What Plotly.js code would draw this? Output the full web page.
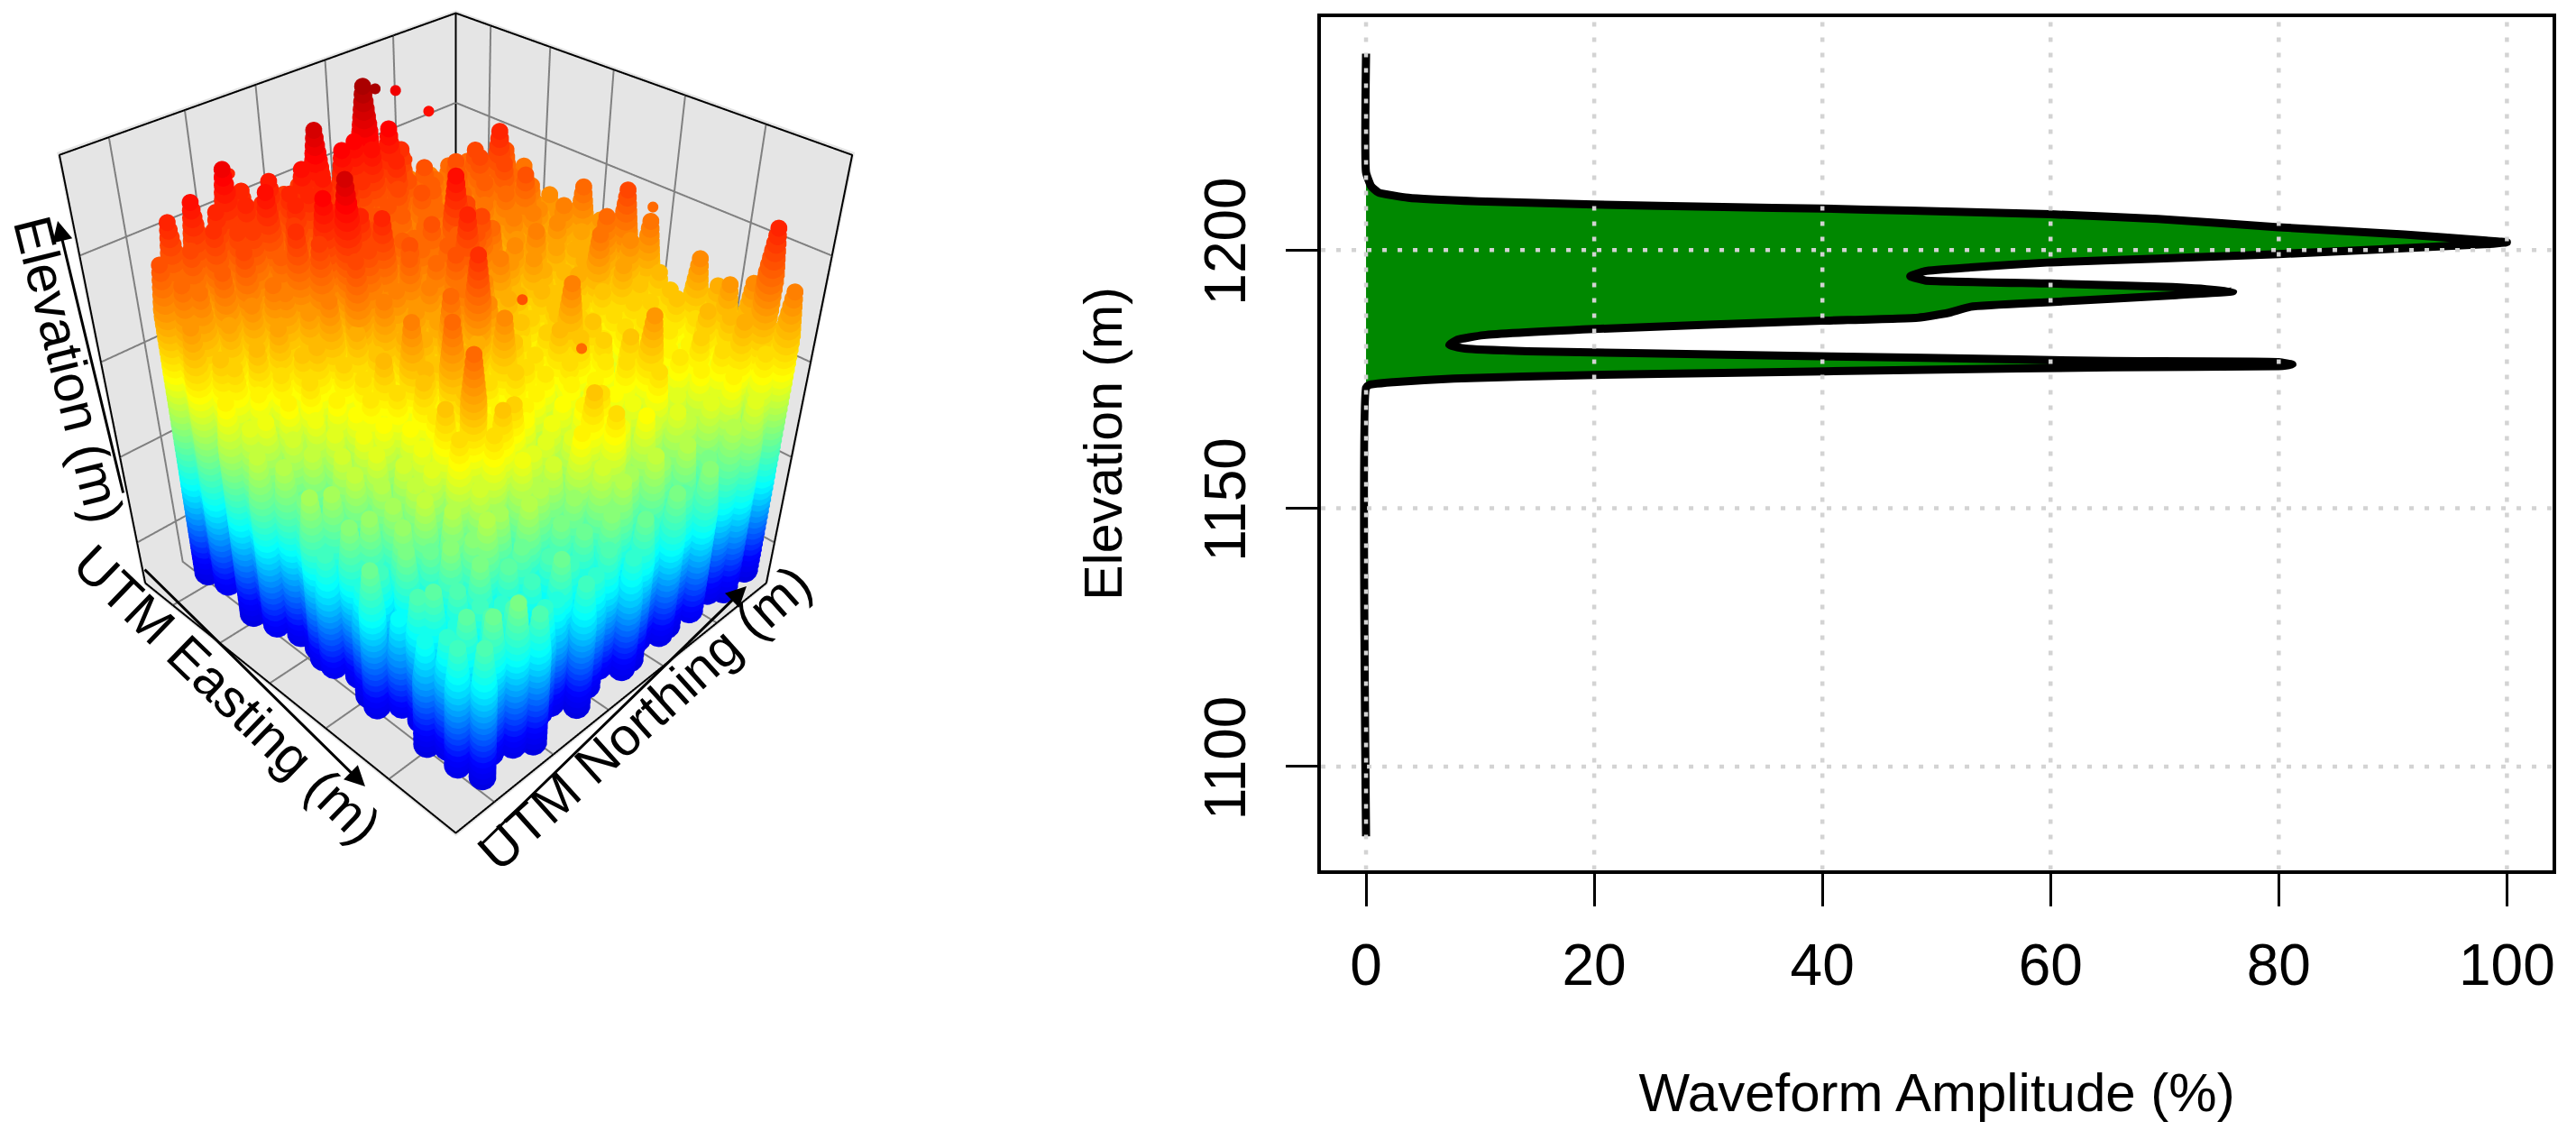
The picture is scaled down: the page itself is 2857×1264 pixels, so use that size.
<!DOCTYPE html>
<html>
<head>
<meta charset="utf-8">
<script src="https://cdn.plot.ly/plotly-3.0.1.min.js"></script>
<style>html,body{margin:0;padding:0;background:#fff}#chart{width:2857px;height:1264px}</style>
</head>
<body>
<div id="chart"></div>
<script>
// =========================
// POINT CLOUD DATA
// =========================
const eastingM = [2.5,7.5,12.5,17.5,22.5,27.5,32.5,37.5,42.5,47.5,52.5,57.5,62.5,67.5,72.5,77.5,82.5,87.5,92.5,97.5];
const northingM = [2.5,7.5,12.5,17.5,22.5,27.5,32.5,37.5,42.5,47.5,52.5,57.5,62.5,67.5,72.5,77.5,82.5,87.5,92.5,97.5];
// the stems do not stand on a clean grid
const northingShift = [0,1.5,-1,2,-1.5,0.5,-2,1,2,-0.5,-1.5,1.5,0,-2,1,2,-1,0.5,-1.5,1];
const eastingShift = [1,-1.5,0.5,2,-1,-2,1.5,0,-1,2,0.5,-1.5,1,-0.5,2,-2,0,1.5,-1,0.5];
// ground rise above 1175 m along each direction, from the scalloped lower edge
const groundE = [0,0.5,1.5,0.5,0,1,2,1,0,0.5,1.5,0.5,0,1,1.5,0.5,0,0.5,1,0];
const groundN = [0,1,0.5,0,1.5,0.5,0,1,2,0.5,0,1,0.5,0,1.5,0.5,1,0,0.5,0];
const cloudLevels = [1175,1176,1177,1178,1179,1180,1181,1182,1183,1184,1185,1186,1187,1188,1189,1190,1191,1192,1193,1194,1195,1196,1197,1198,1199,1200,1201,1202,1203,1204,1205,1206,1207,1208,1209,1210,1211,1212,1213,1214,1215,1216,1217,1218,1219,1220,1221,1222,1223,1224,1225,1226,1227,1228,1229,1230,1231,1232,1233,1234,1235,1236];
// canopy top (m), one row per easting, one column per northing
const canopyTop = [
 [1224,1228,1230,1228,1232,1228,1229,1226,1226,1225,1224,1225,1226,1224,1222,1220,1220,1219,1218,1216],
 [1222,1225,1227,1226,1228,1227,1228,1230,1234,1231,1231,1237,1231,1227,1224,1221,1222,1222,1220,1218],
 [1218,1221,1223,1225,1226,1230,1228,1228,1229,1227,1227,1230,1228,1224,1223,1222,1224,1225,1222,1220],
 [1214,1217,1219,1221,1223,1226,1227,1225,1225,1224,1224,1225,1224,1223,1222,1223,1225,1228,1224,1221],
 [1210,1213,1215,1217,1220,1227,1231,1228,1225,1224,1222,1223,1222,1222,1221,1222,1223,1225,1222,1220],
 [1207,1210,1212,1214,1218,1226,1234,1228,1225,1223,1222,1222,1221,1220,1220,1221,1222,1224,1221,1219],
 [1205,1208,1210,1212,1215,1220,1225,1225,1228,1224,1222,1224,1230,1225,1220,1219,1220,1220,1219,1218],
 [1204,1206,1208,1210,1213,1216,1220,1220,1223,1222,1223,1223,1225,1222,1219,1218,1218,1219,1220,1222],
 [1200,1205,1207,1209,1212,1214,1216,1218,1220,1224,1228,1224,1220,1218,1218,1220,1217,1216,1217,1218],
 [1203,1198,1206,1208,1211,1215,1220,1216,1217,1221,1223,1219,1216,1215,1215,1216,1215,1216,1216,1218],
 [1196,1203,1205,1207,1209,1212,1215,1214,1222,1227,1219,1215,1214,1213,1214,1214,1216,1221,1222,1225],
 [1201,1197,1204,1206,1209,1214,1222,1216,1216,1219,1214,1212,1213,1214,1213,1213,1214,1217,1219,1221],
 [1194,1202,1203,1205,1208,1211,1214,1212,1212,1213,1212,1212,1215,1220,1214,1212,1212,1213,1214,1215],
 [1199,1196,1202,1205,1207,1214,1212,1210,1210,1210,1210,1211,1212,1214,1213,1211,1212,1212,1213,1214],
 [1192,1200,1199,1204,1212,1222,1214,1213,1209,1208,1209,1210,1210,1211,1214,1211,1210,1211,1214,1219],
 [1197,1193,1201,1201,1206,1212,1208,1207,1207,1207,1210,1210,1209,1212,1218,1213,1210,1210,1212,1216],
 [1193,1198,1197,1200,1204,1203,1204,1204,1206,1210,1214,1212,1207,1208,1212,1210,1211,1213,1215,1218],
 [1195,1194,1196,1195,1198,1199,1197,1200,1202,1206,1212,1208,1209,1206,1207,1207,1210,1212,1215,1219],
 [1196,1198,1197,1197,1195,1196,1199,1196,1199,1201,1204,1203,1205,1202,1204,1205,1207,1210,1216,1228],
 [1197,1199,1200,1197,1195,1194,1196,1195,1197,1195,1199,1196,1200,1198,1201,1200,1204,1207,1212,1220]
];
// isolated returns above the canopy
const strayE = [9,-3,5,-8,56,6,9,67,84,58];
const strayN = [60,77,80,31,102,39,69,46,45,99];
const strayZ = [1237,1232,1230,1228,1222,1228,1226,1224,1222,1220];

const sceneE = [-9,103];
const sceneN = [-9,103];
const sceneZ = [1172,1238];
// box edges sit just inside the axis range so they do not fight with the walls
const edgeE = [-8.7,102.7];
const edgeN = [-8.7,102.7];
const edgeZ = [1172.3,1237.7];
const gridE = [3,22,41,61,82];
const gridN = [3,22,41,61,82];
const gridZ = [1180,1195,1210,1225];
const jetScale = [[0,'#0000B0'],[0.15,'#0000FF'],[0.33,'#00FFFF'],[0.57,'#FFFF00'],[0.875,'#FF0000'],[1,'#800000']];

// =========================
// WAVEFORM DATA
// =========================
const waveAmp = [0,0,0.46,1.1,3.7,9.8,20,31.3,40,47.7,60,69.4,80,91,98.2,100,98,80,69.4,60,53,49,47.7,49,60,70.7,76,70.7,60,53,51,48.4,40,20,10.3,8,7.3,8.7,14.2,32.6,49,65.4,80,81.2,80,65.4,49,31.3,20,7.7,2.4,0.3,0,0];
const waveElev = [1238,1215,1212.3,1211.1,1210.1,1209.4,1208.8,1208.3,1208,1207.6,1206.9,1206,1204.4,1203,1201.8,1201.5,1201.1,1199.2,1198.3,1197.6,1196.6,1195.9,1194.9,1194.1,1193.5,1192.8,1192,1191.2,1189.9,1189,1187.8,1186.9,1186.3,1184.7,1183.5,1182.6,1181.6,1180.9,1180.4,1179.7,1179.1,1178.5,1178.3,1177.8,1177.5,1177.3,1176.8,1176.2,1175.8,1175.1,1174.4,1173.9,1173.3,1086.5];
const ampTicks = [0,20,40,60,80,100];
const elevTicks = [1100,1150,1200];
const ampRange = [-3.95,104];
const elevRange = [1080,1245];

// =========================
// BUILD THE CLOUD
// =========================
let cloudE = [], cloudN = [], cloudZ = [], cloudSize = [];
canopyTop.forEach((row, i) => {
    row.forEach((top, j) => {
        const ground = 1175 + groundE[i] + groundN[j];
        cloudLevels.filter(z => z < top && z >= ground).concat([top]).forEach(z => {
            cloudE.push(eastingM[i] + eastingShift[j]);
            cloudN.push(northingM[j] + northingShift[i]);
            cloudZ.push(z);
            // crowns narrow toward the tip
            cloudSize.push(Math.min(36, 22 + (top - z) * 2.2));
        });
    });
});

const colorOpts = {cmin: 1168, cmax: 1240, colorscale: jetScale, showscale: false};

function line3d(xs, ys, zs, color, width) {
    return {type: 'scatter3d', mode: 'lines', x: xs, y: ys, z: zs, hoverinfo: 'skip',
        showlegend: false, line: {color: color, width: width}};
}

const [e0, e1] = edgeE, [n0, n1] = edgeN, [z0, z1] = edgeZ;
const traces = [
    {type: 'scatter3d', mode: 'markers', x: cloudE, y: cloudN, z: cloudZ, hoverinfo: 'skip',
        marker: Object.assign({size: cloudSize, color: cloudZ, opacity: 1, line: {width: 0}}, colorOpts)},
    {type: 'scatter3d', mode: 'markers', x: strayE, y: strayN, z: strayZ, hoverinfo: 'skip',
        marker: Object.assign({size: 7, color: strayZ, opacity: 1, line: {width: 0}}, colorOpts)},
    // floor front edges and wall outlines
    line3d([e0, e1, e1], [n0, n0, n1], [z0, z0, z0], '#000', 4),
    line3d([e0, e0, e0, e1, e1], [n0, n0, n1, n1, n1], [z0, z1, z1, z1, z0], '#000', 4),
    line3d([e0, e0], [n1, n1], [z0, z1], '#000', 4)
];

// grey grid on the two back walls and the floor
gridE.forEach(t => {
    traces.push(line3d([t, t, t], [n0, n1, n1], [z0, z0, z1], '#808080', 4));
});
gridN.forEach(t => {
    traces.push(line3d([e1, e0, e0], [t, t, t], [z0, z0, z1], '#808080', 4));
});
gridZ.forEach(t => {
    traces.push(line3d([e0, e0, e1], [n0, n1, n1], [t, t, t], '#808080', 4));
});

// waveform polygon, then its grid on top
traces.push({type: 'scatter', mode: 'lines', x: waveAmp, y: waveElev, fill: 'toself', fillcolor: '#008800',
    line: {color: '#000', width: 9, shape: 'spline', smoothing: 0.4}, hoverinfo: 'skip', showlegend: false});
ampTicks.forEach(t => traces.push({type: 'scatter', mode: 'lines', x: [t, t], y: elevRange, hoverinfo: 'skip',
    showlegend: false, line: {color: '#D3D3D3', width: 4.5, dash: '5px,12px'}}));
elevTicks.forEach(t => traces.push({type: 'scatter', mode: 'lines', x: ampRange, y: [t, t], hoverinfo: 'skip',
    showlegend: false, line: {color: '#D3D3D3', width: 4.5, dash: '5px,12px'}}));

const hidden = {title: {text: ''}, showticklabels: false, ticks: '', zeroline: false, showspikes: false,
    showbackground: true, backgroundcolor: '#E5E5E5', showgrid: false};

function note(text, x, y, angle) {
    return {text: text, xref: 'paper', yref: 'paper', x: x / 2857, y: 1 - y / 1264, showarrow: false,
        xanchor: 'center', yanchor: 'middle', textangle: angle, font: {size: 59, color: '#000'}};
}
function axisArrow(x0, y0, x1, y1) {
    return {text: '', xref: 'paper', yref: 'paper', axref: 'paper', ayref: 'paper',
        x: x1 / 2857, y: 1 - y1 / 1264, ax: x0 / 2857, ay: 1 - y0 / 1264,
        showarrow: true, arrowhead: 2, arrowsize: 1.5, arrowwidth: 3, arrowcolor: '#000'};
}

const layout = {
    width: 2857, height: 1264, paper_bgcolor: '#fff', plot_bgcolor: '#fff', showlegend: false,
    margin: {l: 0, r: 0, t: 0, b: 0},
    font: {family: '"Liberation Sans", Arial, sans-serif', color: '#000'},
    scene: {
        domain: {x: [0, 0.354], y: [0, 1]},
        aspectmode: 'manual', aspectratio: {x: 1, y: 1, z: 1.03},
        camera: {eye: {x: 1.639, y: -1.639, z: 1.572}, center: {x: 0, y: 0, z: -0.471}, up: {x: 0, y: 0, z: 1}},
        xaxis: Object.assign({}, hidden, {range: sceneE}),
        yaxis: Object.assign({}, hidden, {range: sceneN}),
        zaxis: Object.assign({}, hidden, {range: sceneZ})
    },
    xaxis: {domain: [0.5128, 0.9909], range: ampRange, tickvals: ampTicks, showgrid: false, zeroline: false,
        showline: true, mirror: true, linecolor: '#000', linewidth: 3.5, ticks: 'outside', ticklen: 37, tickwidth: 3,
        tickcolor: '#000', tickfont: {size: 64}, ticklabelstandoff: 10,
        title: {text: 'Waveform Amplitude (%)', font: {size: 60}, standoff: 86}},
    yaxis: {domain: [0.2369, 0.9847], range: elevRange, tickvals: elevTicks, showgrid: false, zeroline: false,
        showline: true, mirror: true, linecolor: '#000', linewidth: 3.5, ticks: 'outside', ticklen: 35, tickwidth: 3,
        tickcolor: '#000', tickangle: -90, tickfont: {size: 64}, ticklabelstandoff: 20,
        title: {text: 'Elevation (m)', font: {size: 59}, standoff: 60}},
    annotations: [
        note('Elevation (m)', 76, 410, 76),
        note('UTM Easting (m)', 252, 770, 44),
        note('UTM Northing (m)', 715, 796, -42),
        axisArrow(137, 548, 64, 245),
        axisArrow(159, 630, 405, 872),
        axisArrow(533, 937, 828, 650)
    ]
};

Plotly.newPlot('chart', traces, layout, {displayModeBar: false});
</script>
</body>
</html>
